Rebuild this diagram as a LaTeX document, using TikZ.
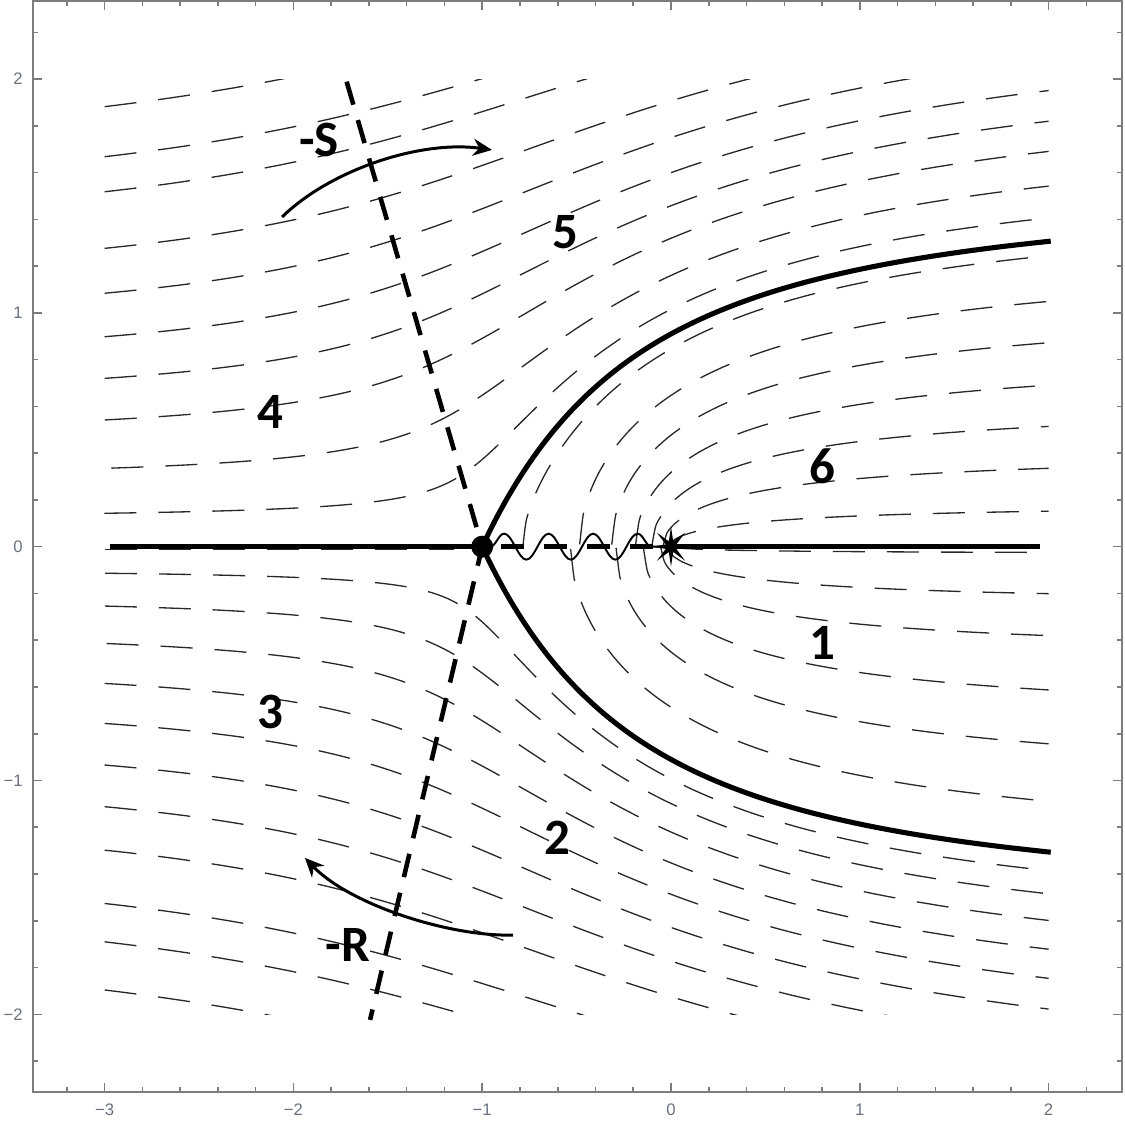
\documentclass[tikz,border=0pt]{standalone}
\usepackage{fontspec}
\setmainfont{Carlito}
\newfontfamily\tickfont{Liberation Sans}
\usetikzlibrary{shapes.geometric,arrows.meta,decorations.pathmorphing}
\definecolor{framegray}{RGB}{125,125,125}
\definecolor{ticklabel}{RGB}{105,112,125}
\definecolor{streamgray}{RGB}{40,40,40}
\pgfdeclarelayer{bg}
\pgfsetlayers{bg,main}

% streamline entering at x=-3 with |y|=#1, sign #2
\newcommand\leftstream[2]{%
  \pgfmathsetmacro\myU{#1*#1/6}%
  \pgfmathsetmacro\myU{(4*#1*#1+\myU/(1+\myU))/25}%
  \pgfmathsetmacro\myU{(4*#1*#1+\myU/(1+\myU))/25}%
  \pgfmathsetmacro\myU{(4*#1*#1+\myU/(1+\myU))/25}%
  \pgfmathsetmacro\myT{sqrt(\myU)}%
  \pgfmathsetmacro\myE{rad(atan(\myT))}%
  \pgfmathsetmacro\myD{5*\myT-\myE}%
  \pgfmathsetmacro\myL{ln(\myE)}%
  \draw[stream] plot[variable=\t,domain=\myL:0,samples=45,smooth]
      ({sx(exp(\t),\myD)},{#2*sy(exp(\t),\myD)})
    -- plot[variable=\t,domain=1:2.8,samples=60,smooth]
      ({sx(\t,\myD)},{#2*sy(\t,\myD)});%
}
% streamline of level #1 (0<c<pi/2) starting on the cut, sign #2
\newcommand\innerstream[2]{%
  \pgfmathsetmacro\myQ{#1}%
  \pgfmathsetmacro\myQ{\myQ-(\myQ+sin(deg(\myQ))-2*#1)/(1+cos(deg(\myQ)))}%
  \pgfmathsetmacro\myQ{\myQ-(\myQ+sin(deg(\myQ))-2*#1)/(1+cos(deg(\myQ)))}%
  \pgfmathsetmacro\myQ{\myQ-(\myQ+sin(deg(\myQ))-2*#1)/(1+cos(deg(\myQ)))}%
  \pgfmathsetmacro\myQ{\myQ-(\myQ+sin(deg(\myQ))-2*#1)/(1+cos(deg(\myQ)))}%
  \pgfmathsetmacro\myQ{\myQ-(\myQ+sin(deg(\myQ))-2*#1)/(1+cos(deg(\myQ)))}%
  \pgfmathsetmacro\myQ{\myQ-(\myQ+sin(deg(\myQ))-2*#1)/(1+cos(deg(\myQ)))}%
  \pgfmathsetmacro\myD{2*#1-pi}%
  \pgfmathsetmacro\myLa{ln(\myQ)}%
  \pgfmathsetmacro\myLb{ln(#1/4)}%
  \draw[stream] plot[variable=\t,domain=\myLa:\myLb,samples=70,smooth]
      ({sx(pi-exp(\t),\myD)},{#2*sy(pi-exp(\t),\myD)});%
}

\begin{document}
\begin{tikzpicture}[
  declare function={
    sx(\vE,\vD)=(-(\vD+\vE)*cos(deg(\vE))/sin(deg(\vE))-1)/2;
    sy(\vE,\vD)=sqrt(max((\vD+\vE)*(\vD+\vE)-sin(deg(\vE))*sin(deg(\vE)),0))/2;
  },
  stream/.style={draw=streamgray,line width=0.75pt,dash pattern=on 0.64cm off 0.44cm},
  heavy/.style={line width=2.9pt},
  heavydash/.style={line width=2.6pt,dash pattern=on 0.48cm off 0.32cm},
  cutdash/.style={line width=2.8pt,dash pattern=on 0.46cm off 0.40cm,dash phase=0.48cm},
  wave/.style={line width=1.1pt,decorate,decoration={snake,amplitude=0.26cm,segment length=0.89cm,pre length=0.16cm,post length=0.08cm}},
  annot/.style={line width=1.7pt,-{Stealth[length=0.38cm,width=0.34cm]}},
  region/.style={font=\fontsize{29}{30}\selectfont\bfseries,inner sep=0pt},
  frameline/.style={draw=framegray,line width=0.9pt},
  ticklab/.style={font=\tickfont\fontsize{9.5}{10}\selectfont,text=ticklabel,inner sep=0pt},
  dotnode/.style={circle,fill=black,minimum size=0.44cm,inner sep=0pt},
  starnode/.style={star,star points=8,star point ratio=3.5,fill=black,minimum size=0.8cm,inner sep=0pt},
]
\useasboundingbox (0,0) rectangle (22.5,22.5);
\begin{scope}[shift={(13.42,11.566)},x=3.776cm,y=4.676cm]
  % frame and ticks
  \draw[frameline] (-3.379,-2.333) rectangle (2.389,2.334);
  \foreach \i in {-16,...,11}
    \draw[frameline] (\i/5,-2.333) -- ++(0,0.0214) (\i/5,2.334) -- ++(0,-0.0214);
  \foreach \i in {-11,...,11}
    \draw[frameline] (-3.379,\i/5) -- ++(0.0265,0) (2.389,\i/5) -- ++(-0.0265,0);
  \foreach \i/\lab in {-3/−3,-2/−2,-1/−1,0/0,1/1,2/2}{
    \draw[frameline] (\i,-2.333) -- ++(0,0.0385) (\i,2.334) -- ++(0,-0.0385);
    \node[ticklab] (xl\i) at (\i,-2.409) {\lab};
  }
  \foreach \i/\lab in {-2/−2,-1/−1,0/0,1/1,2/2}{
    \draw[frameline] (-3.379,\i) -- ++(0.0477,0) (2.389,\i) -- ++(-0.0477,0);
    \node[ticklab,anchor=east] (yl\i) at (-3.432,\i) {\lab};
  }

  % special points
  \node[dotnode] (dot) at (-1,0) {};
  \node[starnode] (star) at (0,0) {};
  \coordinate (axL) at (-2.974,0);
  \coordinate (axR) at (1.952,0);
  \coordinate (vtop) at (-1.718,1.989);
  \coordinate (vbot) at (-1.594,-2.024);

  \begin{pgfonlayer}{bg}
    \begin{scope}
      \clip (-3.01,-2) rectangle (2,2);
      \foreach \yy in {0.143,0.335,0.542,0.720,0.898,1.084,1.276,1.518,1.668,1.882}
        {\leftstream{\yy}{1}}
      \foreach \yy in {0.114,0.254,0.414,0.585,0.756,0.934,1.112,1.298,1.526,1.690,1.896}
        {\leftstream{\yy}{-1}}
      \foreach \cc in {0.186,0.410,0.628,0.841,1.059,1.269,1.499}
        {\innerstream{\cc}{1}}
      \foreach \cc in {0.03,0.246,0.465,0.747,1.024,1.316}
        {\innerstream{\cc}{-1}}
      \draw[stream] (-3,-0.012) -- (-1.15,-0.012);
    \end{scope}
    \draw[heavy] (axL) -- (dot.center);
    \draw[heavy] (star.center) -- (axR);
    \draw[heavy] (dot.center) -- plot[variable=\t,domain=0.2:2.656,samples=70,smooth] ({sx(\t,0)},{sy(\t,0)});
    \draw[heavy] (dot.center) -- plot[variable=\t,domain=0.2:2.656,samples=70,smooth] ({sx(\t,0)},{-sy(\t,0)});
    \draw[cutdash] (dot.center) -- (star.center);
    \draw[wave] (dot.center) -- (star.center);
    \draw[heavydash] (vtop) -- (dot.center) -- (vbot);
  \end{pgfonlayer}

  % region labels
  \node[region] (r5) at (-0.561,1.345) {5};
  \node[region] (r4) at (-2.124,0.576) {4};
  \node[region] (r6) at (0.800,0.345) {6};
  \node[region] (r1) at (0.800,-0.412) {1};
  \node[region] (r3) at (-2.124,-0.707) {3};
  \node[region] (r2) at (-0.604,-1.246) {2};
  \node[region] (mS) at (-1.864,1.739) {-S};
  \node[region] (mR) at (-1.711,-1.704) {-R};

  % rotation arrows
  \coordinate (sa) at (-2.060,1.410);
  \coordinate (sb) at (-0.948,1.697);
  \draw[annot] (sa) .. controls (-1.806,1.611) and (-1.329,1.740) .. (sb);
  \coordinate (ra) at (-0.837,-1.661);
  \coordinate (rb) at (-1.939,-1.331);
  \draw[annot] (ra) .. controls (-1.171,-1.669) and (-1.700,-1.532) .. (rb);
\end{scope}
\end{tikzpicture}
\end{document}
